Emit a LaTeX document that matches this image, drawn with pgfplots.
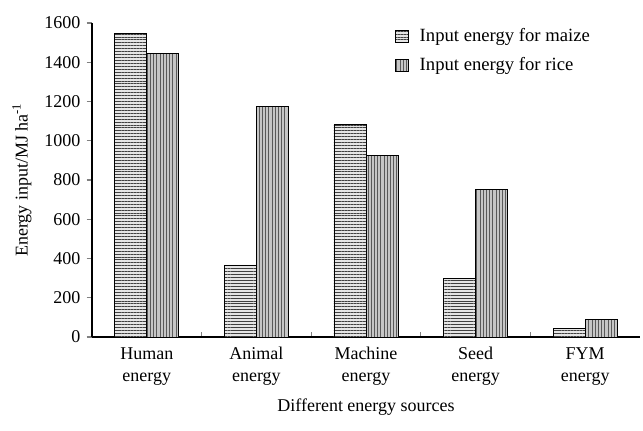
\documentclass[border=0pt]{standalone}
\usepackage{fontspec}
\setmainfont{Liberation Serif}
\usepackage{pgfplots}
\pgfplotsset{compat=1.18}
\usetikzlibrary{patterns.meta}
\begin{document}
\fontsize{13.5}{16.5}\selectfont
\begin{tikzpicture}
\useasboundingbox (-69pt,-69.75pt) rectangle (413.25pt,252.75pt);
\begin{axis}[
  at={(0,0)}, anchor=south west,
  scale only axis, width=411pt, height=235.5pt,
  axis lines=left, axis line style={-, line width=0.8pt},
  xmin=-0.5, xmax=4.5, ymin=0, ymax=1600,
  ytick={0,200,...,1600},
  yticklabels={0,200,400,600,800,1000,1200,1400,1600},
  ybar=0pt, bar width=24pt,
  xtick={0,1,2,3,4},
  xticklabels={{Human\\energy},{Animal\\energy},{Machine\\energy},{Seed\\energy},{FYM\\energy}},
  xticklabel style={align=center, yshift=-3pt},
  major x tick style={draw=none},
  minor xtick={0.5,1.5,2.5,3.5},
  x tick style={line width=0.8pt},
  y tick style={line width=0.8pt},
  xtick align=inside, ytick align=outside,
  major tick length=4pt, minor tick length=4pt,
  every axis y label/.style={at={(axis description cs:-0.128,0.5)}, rotate=90, anchor=center},
  every axis x label/.style={at={(axis description cs:0.5,-0.223)}, anchor=center},
  ylabel={Energy input/MJ ha\textsuperscript{-1}},
  xlabel={Different energy sources},
  legend style={at={(axis description cs:0.546,1.0)}, anchor=north west, draw=none, fill=none, row sep=6pt, font=\fontsize{14}{16}\selectfont},
  legend cell align=left,
  legend image code/.code={\draw[#1] (4pt,-4.5pt) rectangle (13.5pt,4.5pt); \node[draw=none, fill=none, inner sep=0pt, minimum size=0pt] at (19.5pt,0pt) {};},
]
\addplot[draw=black, line width=0.7pt, fill=gray!20,
  postaction={pattern={Lines[angle=0,distance=2.2pt,line width=0.6pt]}, pattern color=black!75}]
  coordinates {(0,1545) (1,367) (2,1085) (3,300) (4,42)};
\addlegendentry{Input energy for maize}
\addplot[draw=black, line width=0.7pt, fill=gray!45,
  postaction={pattern={Lines[angle=90,distance=2.4pt,line width=0.6pt]}, pattern color=black!65}]
  coordinates {(0,1445) (1,1175) (2,925) (3,750) (4,87)};
\addlegendentry{Input energy for rice}
\end{axis}
\end{tikzpicture}
\end{document}
